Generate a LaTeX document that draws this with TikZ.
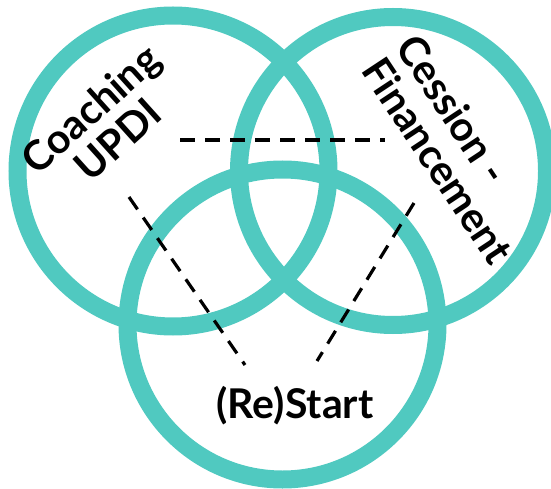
\documentclass[tikz,border=0pt]{standalone}
\usepackage{fontspec}
\setmainfont{Lato}
\definecolor{ringteal}{RGB}{80,201,192}
\tikzset{
  ring/.style={draw=ringteal, line width=18pt},
  guide/.style={draw=black, line width=3.2pt, dash pattern=on 15pt off 10pt},
  label/.style={font=\fontsize{41}{41}\selectfont\bfseries, inner sep=0pt, text=black}
}
\begin{document}
\begin{tikzpicture}[x=1pt,y=-1pt]
\useasboundingbox (0,0) rectangle (551,489);
% rings
\draw[ring] (173,171) circle[radius=155.5pt];
\draw[ring] (393,171) circle[radius=154pt];
\draw[ring] (282.5,324.5) circle[radius=155pt];
% dashed guides
\coordinate (h1) at (180,140);
\coordinate (h2) at (385,140);
\coordinate (l1) at (129,197);
\coordinate (l2) at (245,365);
\coordinate (r1) at (414,203);
\coordinate (r2) at (317,361);
\draw[guide] (h1) -- (h2);
\draw[guide] (l1) -- (l2);
\draw[guide] (r1) -- (r2);
% labels
\node[label, rotate=42, align=center] (coach) at (104,124) {Coaching\\UPDI};
\node[label, rotate=-56.5, align=left] (cession) at (455,149) {Cession -\\Financement};
\node[label, anchor=base] (restart) at (295,418) {(Re)Start};
\end{tikzpicture}
\end{document}
